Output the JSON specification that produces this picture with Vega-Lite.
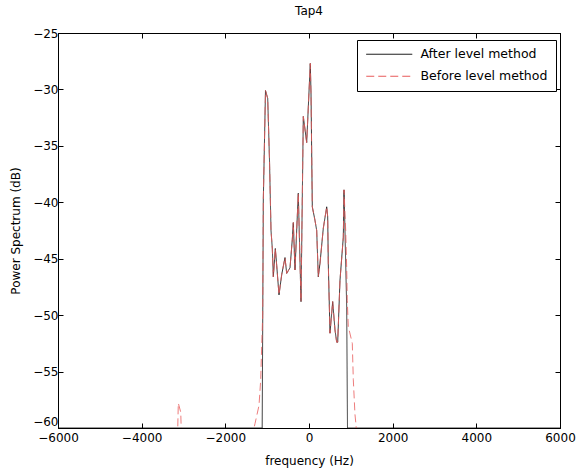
{
  "$schema": "https://vega.github.io/schema/vega-lite/v6.json",
  "width": 502,
  "height": 395,
  "autosize": {"type": "none"},
  "padding": {"left": 58, "top": 33, "right": 18, "bottom": 43},
  "background": "white",
  "title": {"text": "Tap4", "fontSize": 12, "fontWeight": "normal", "font": "DejaVu Sans", "offset": 9, "color": "black"},
  "config": {
    "view": {"stroke": "black", "strokeWidth": 1},
    "axis": {"grid": false, "domainColor": "black", "tickColor": "black", "labelColor": "black", "titleColor": "black", "labelFont": "DejaVu Sans", "titleFont": "DejaVu Sans", "labelFontSize": 12, "titleFontSize": 12, "titleFontWeight": "normal", "tickSize": -5, "labelFlush": false}
  },
  "data": {"values": [
    {"series": "After level method", "f": -6000, "db": -60},
    {"series": "After level method", "f": -1140, "db": -60},
    {"series": "After level method", "f": -1119, "db": -60},
    {"series": "After level method", "f": -1092, "db": -39.8},
    {"series": "After level method", "f": -1040, "db": -30.1},
    {"series": "After level method", "f": -987, "db": -30.8},
    {"series": "After level method", "f": -944, "db": -36.3},
    {"series": "After level method", "f": -908, "db": -42.5},
    {"series": "After level method", "f": -877, "db": -44.1},
    {"series": "After level method", "f": -853, "db": -46.6},
    {"series": "After level method", "f": -805, "db": -44.1},
    {"series": "After level method", "f": -772, "db": -45.6},
    {"series": "After level method", "f": -717, "db": -48.2},
    {"series": "After level method", "f": -652, "db": -46.4},
    {"series": "After level method", "f": -574, "db": -44.9},
    {"series": "After level method", "f": -533, "db": -46.3},
    {"series": "After level method", "f": -454, "db": -45.8},
    {"series": "After level method", "f": -399, "db": -43.3},
    {"series": "After level method", "f": -375, "db": -41.8},
    {"series": "After level method", "f": -335, "db": -46.0},
    {"series": "After level method", "f": -256, "db": -39.2},
    {"series": "After level method", "f": -191, "db": -48.8},
    {"series": "After level method", "f": -136, "db": -32.4},
    {"series": "After level method", "f": -55, "db": -34.7},
    {"series": "After level method", "f": 31, "db": -27.7},
    {"series": "After level method", "f": 48, "db": -30.3},
    {"series": "After level method", "f": 79, "db": -40.4},
    {"series": "After level method", "f": 143, "db": -41.6},
    {"series": "After level method", "f": 184, "db": -42.5},
    {"series": "After level method", "f": 222, "db": -46.6},
    {"series": "After level method", "f": 263, "db": -45.4},
    {"series": "After level method", "f": 342, "db": -42.3},
    {"series": "After level method", "f": 423, "db": -40.4},
    {"series": "After level method", "f": 447, "db": -41.3},
    {"series": "After level method", "f": 461, "db": -45.4},
    {"series": "After level method", "f": 502, "db": -51.6},
    {"series": "After level method", "f": 566, "db": -48.8},
    {"series": "After level method", "f": 621, "db": -51.3},
    {"series": "After level method", "f": 662, "db": -52.4},
    {"series": "After level method", "f": 686, "db": -52.4},
    {"series": "After level method", "f": 741, "db": -46.9},
    {"series": "After level method", "f": 820, "db": -43.1},
    {"series": "After level method", "f": 837, "db": -38.9},
    {"series": "After level method", "f": 860, "db": -42.5},
    {"series": "After level method", "f": 901, "db": -49.3},
    {"series": "After level method", "f": 920, "db": -60},
    {"series": "After level method", "f": 6000, "db": -60},

    {"series": "Before level method", "f": -6000, "db": -61},
    {"series": "Before level method", "f": -3150, "db": -62},
    {"series": "Before level method", "f": -3124, "db": -57.8},
    {"series": "Before level method", "f": -3066, "db": -58.6},
    {"series": "Before level method", "f": -3040, "db": -62},
    {"series": "Before level method", "f": -1340, "db": -61},
    {"series": "Before level method", "f": -1315, "db": -60},
    {"series": "Before level method", "f": -1290, "db": -59.6},
    {"series": "Before level method", "f": -1195, "db": -58},
    {"series": "Before level method", "f": -1154, "db": -55.7},
    {"series": "Before level method", "f": -1130, "db": -52.6},
    {"series": "Before level method", "f": -1107, "db": -50},
    {"series": "Before level method", "f": -1092, "db": -39.8},
    {"series": "Before level method", "f": -1040, "db": -30.1},
    {"series": "Before level method", "f": -987, "db": -30.8},
    {"series": "Before level method", "f": -944, "db": -36.3},
    {"series": "Before level method", "f": -908, "db": -42.5},
    {"series": "Before level method", "f": -877, "db": -44.1},
    {"series": "Before level method", "f": -853, "db": -46.6},
    {"series": "Before level method", "f": -805, "db": -44.1},
    {"series": "Before level method", "f": -772, "db": -45.6},
    {"series": "Before level method", "f": -717, "db": -48.2},
    {"series": "Before level method", "f": -652, "db": -46.4},
    {"series": "Before level method", "f": -574, "db": -44.9},
    {"series": "Before level method", "f": -533, "db": -46.3},
    {"series": "Before level method", "f": -454, "db": -45.8},
    {"series": "Before level method", "f": -399, "db": -43.3},
    {"series": "Before level method", "f": -375, "db": -41.8},
    {"series": "Before level method", "f": -335, "db": -46.0},
    {"series": "Before level method", "f": -256, "db": -39.2},
    {"series": "Before level method", "f": -191, "db": -48.8},
    {"series": "Before level method", "f": -136, "db": -32.4},
    {"series": "Before level method", "f": -55, "db": -34.7},
    {"series": "Before level method", "f": 31, "db": -27.7},
    {"series": "Before level method", "f": 48, "db": -30.3},
    {"series": "Before level method", "f": 79, "db": -40.4},
    {"series": "Before level method", "f": 143, "db": -41.6},
    {"series": "Before level method", "f": 184, "db": -42.5},
    {"series": "Before level method", "f": 222, "db": -46.6},
    {"series": "Before level method", "f": 263, "db": -45.4},
    {"series": "Before level method", "f": 342, "db": -42.3},
    {"series": "Before level method", "f": 423, "db": -40.4},
    {"series": "Before level method", "f": 447, "db": -41.3},
    {"series": "Before level method", "f": 461, "db": -45.4},
    {"series": "Before level method", "f": 502, "db": -51.6},
    {"series": "Before level method", "f": 566, "db": -48.8},
    {"series": "Before level method", "f": 621, "db": -51.3},
    {"series": "Before level method", "f": 662, "db": -52.4},
    {"series": "Before level method", "f": 686, "db": -52.4},
    {"series": "Before level method", "f": 741, "db": -46.9},
    {"series": "Before level method", "f": 820, "db": -43.1},
    {"series": "Before level method", "f": 837, "db": -38.9},
    {"series": "Before level method", "f": 877, "db": -42.5},
    {"series": "Before level method", "f": 901, "db": -45.8},
    {"series": "Before level method", "f": 915, "db": -48.7},
    {"series": "Before level method", "f": 939, "db": -51},
    {"series": "Before level method", "f": 1035, "db": -52.5},
    {"series": "Before level method", "f": 1059, "db": -55.7},
    {"series": "Before level method", "f": 1099, "db": -58.8},
    {"series": "Before level method", "f": 1123, "db": -59.7},
    {"series": "Before level method", "f": 1147, "db": -61},
    {"series": "Before level method", "f": 6000, "db": -61}
  ]},
  "layer": [
    {
      "mark": {"type": "line", "strokeWidth": 0.8, "clip": true},
      "encoding": {
        "x": {"field": "f", "type": "quantitative", "scale": {"domain": [-6000, 6000], "nice": false},
              "axis": {"orient": "bottom", "values": [-6000, -4000, -2000, 0, 2000, 4000, 6000], "format": "d", "title": "frequency (Hz)", "labelPadding": 9, "titlePadding": 12}},
        "y": {"field": "db", "type": "quantitative", "scale": {"domain": [-60, -25], "nice": false, "zero": false},
              "axis": {"orient": "left", "values": [-60, -55, -50, -45, -40, -35, -30, -25], "title": "Power Spectrum (dB)", "labelPadding": 5, "titlePadding": 10,
                       "labelBaseline": {"condition": {"test": "datum.value == -60", "value": "bottom"}, "value": "middle"}}},
        "color": {"field": "series", "type": "nominal",
                  "scale": {"domain": ["After level method", "Before level method"], "range": ["#000000", "#e85a5a"]},
                  "legend": {"title": null, "orient": "none", "legendX": 299, "legendY": 7, "symbolType": "M-1,0H8.2", "symbolSize": 100, "symbolStrokeWidth": 1, "labelFont": "DejaVu Sans", "labelFontSize": 12.5, "labelColor": "black", "strokeColor": "black", "fillColor": "white", "padding": 8, "rowPadding": 9, "labelOffset": 43}},
        "strokeDash": {"field": "series", "type": "nominal",
                  "scale": {"domain": ["After level method", "Before level method"], "range": [[1, 0], [8, 4]]},
                  "legend": {"title": null, "orient": "none", "legendX": 299, "legendY": 7, "symbolType": "M-1,0H8.2", "symbolSize": 100, "symbolStrokeWidth": 1, "labelFont": "DejaVu Sans", "labelFontSize": 12.5, "labelColor": "black", "strokeColor": "black", "fillColor": "white", "padding": 8, "rowPadding": 9, "labelOffset": 43}}
      }
    },
    {
      "mark": {"type": "line", "opacity": 0, "clip": true},
      "encoding": {
        "x": {"field": "f", "type": "quantitative", "axis": {"orient": "top", "values": [-6000, -4000, -2000, 0, 2000, 4000, 6000], "labels": false, "title": null}},
        "y": {"field": "db", "type": "quantitative", "axis": {"orient": "right", "values": [-60, -55, -50, -45, -40, -35, -30, -25], "labels": false, "title": null}},
        "detail": {"field": "series"}
      }
    }
  ],
  "resolve": {"axis": {"x": "independent", "y": "independent"}}
}
